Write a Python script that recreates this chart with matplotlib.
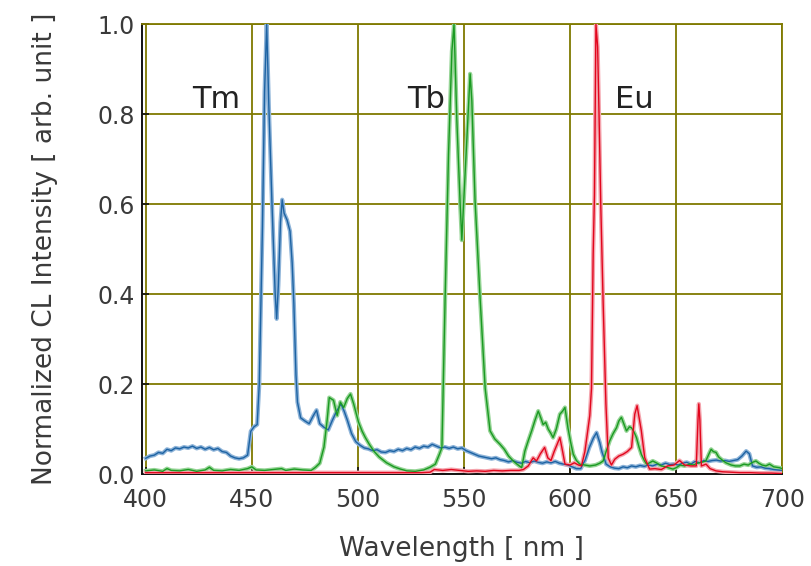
import matplotlib
matplotlib.use("Agg")
import matplotlib.pyplot as plt

# Tm-doped sample (blue)
tm_wl = [400, 402, 404, 406, 408, 410, 412, 414, 416, 418, 420, 422, 424, 426, 428, 430,
         432, 434, 436, 438, 440, 442, 444, 446, 448, 449.5, 451, 452.5, 453.5, 455, 456,
         457, 458, 459.5, 461, 461.7, 462.5, 463.5, 464.3, 465.2, 466.6, 468, 469, 469.8,
         470.8, 471.5, 473, 475, 477, 479, 480.5, 482, 484, 486, 488, 490, 492, 493.5, 495,
         497, 499, 501, 503, 505, 507, 509, 511, 513, 515, 517, 519, 521, 523, 525, 527, 529,
         531, 533, 535, 537, 539, 541, 543, 545, 547, 549, 551, 553, 555, 557, 559, 561, 563,
         565, 567, 569, 571, 573, 575, 577, 579, 581, 583, 585, 587, 589, 591, 593, 595, 597,
         599, 601, 603, 605, 607, 609, 611, 612.5, 614, 615, 617, 619, 621, 623, 625, 627,
         629, 631, 633, 635, 637, 639, 641, 643, 645, 647, 649, 651, 653, 655, 657, 659, 661,
         663, 665, 667, 669, 671, 673, 675, 677, 679, 681, 683, 684.5, 686, 688, 690, 692,
         694, 696, 698, 700]
tm_int = [0.035, 0.040, 0.042, 0.048, 0.046, 0.055, 0.052, 0.058, 0.056, 0.060, 0.058, 0.062,
          0.057, 0.060, 0.055, 0.059, 0.054, 0.057, 0.050, 0.048, 0.040, 0.036, 0.034, 0.036,
          0.042, 0.095, 0.105, 0.110, 0.200, 0.550, 0.850, 1.000, 0.820, 0.600, 0.400, 0.345,
          0.420, 0.560, 0.610, 0.580, 0.565, 0.540, 0.470, 0.380, 0.220, 0.160, 0.125, 0.118,
          0.112, 0.130, 0.142, 0.112, 0.104, 0.098, 0.120, 0.140, 0.156, 0.140, 0.120, 0.090,
          0.072, 0.064, 0.058, 0.056, 0.052, 0.054, 0.049, 0.048, 0.052, 0.050, 0.055, 0.052,
          0.057, 0.054, 0.060, 0.057, 0.062, 0.060, 0.066, 0.062, 0.058, 0.060, 0.057, 0.060,
          0.056, 0.058, 0.052, 0.048, 0.044, 0.040, 0.038, 0.036, 0.034, 0.036, 0.032, 0.030,
          0.027, 0.030, 0.026, 0.024, 0.028, 0.025, 0.029, 0.026, 0.024, 0.027, 0.025, 0.028,
          0.024, 0.022, 0.020, 0.016, 0.012, 0.012, 0.030, 0.058, 0.080, 0.092, 0.070, 0.050,
          0.022, 0.016, 0.013, 0.012, 0.016, 0.014, 0.018, 0.016, 0.019, 0.017, 0.020, 0.018,
          0.022, 0.020, 0.024, 0.021, 0.022, 0.020, 0.024, 0.026, 0.022, 0.028, 0.025, 0.030,
          0.028, 0.030, 0.031, 0.029, 0.030, 0.028, 0.030, 0.032, 0.040, 0.051, 0.045, 0.018,
          0.015, 0.016, 0.013, 0.012, 0.010, 0.009, 0.008]

# Tb-doped sample (green)
tb_wl = [400, 404, 408, 410, 412, 416, 420, 424, 428, 430, 432, 436, 440, 444, 448, 450, 452,
         456, 460, 464, 466, 470, 474, 478, 480, 482, 484, 485.5, 486.5, 488.5, 490.2, 491.7,
         493.3, 495, 496.5, 498, 500.3, 502, 503.5, 505.5, 507.5, 510, 513.5, 517, 520, 523,
         527, 531, 534, 536.5, 538.5, 539.6, 541.1, 542.7, 544.3, 545.3, 546.6, 548.2, 549,
         549.7, 551.3, 552.9, 553.7, 555.2, 557.6, 560, 562.3, 564.5, 567, 569, 571, 573.2,
         575, 577.2, 578.7, 580, 581.9, 583.5, 585, 586.2, 587.3, 588.5, 589.7, 591, 592,
         593.5, 595.2, 596.5, 597.6, 599, 600.3, 601.5, 603, 604.6, 607, 609.3, 612, 614,
         615.6, 617, 618.7, 620.3, 621.9, 623, 624.2, 625.5, 626.6, 628, 628.9, 630, 631.3,
         632.5, 633.6, 635, 636, 637.5, 639, 641, 643, 645, 647, 648.5, 650, 652, 654, 656.4,
         658, 660, 662, 664, 665.5, 666.5, 667.5, 668.8, 670, 672, 673.5, 676, 678, 680, 682,
         684, 686, 687.6, 689, 690.5, 692.3, 694, 696, 698.7, 700]
tb_int = [0.007, 0.009, 0.006, 0.012, 0.008, 0.007, 0.010, 0.006, 0.009, 0.015, 0.008, 0.007,
          0.010, 0.008, 0.012, 0.016, 0.009, 0.008, 0.010, 0.012, 0.008, 0.011, 0.009, 0.008,
          0.015, 0.024, 0.060, 0.120, 0.170, 0.164, 0.130, 0.160, 0.148, 0.168, 0.178, 0.156,
          0.115, 0.095, 0.081, 0.065, 0.051, 0.038, 0.025, 0.016, 0.011, 0.007, 0.006, 0.009,
          0.015, 0.022, 0.045, 0.059, 0.390, 0.710, 0.940, 1.000, 0.790, 0.600, 0.520, 0.590,
          0.740, 0.890, 0.830, 0.610, 0.390, 0.190, 0.096, 0.078, 0.066, 0.055, 0.040, 0.029,
          0.022, 0.014, 0.051, 0.070, 0.096, 0.120, 0.140, 0.125, 0.110, 0.115, 0.100, 0.090,
          0.081, 0.100, 0.133, 0.140, 0.148, 0.103, 0.070, 0.044, 0.030, 0.022, 0.020, 0.018,
          0.020, 0.024, 0.029, 0.050, 0.074, 0.090, 0.103, 0.118, 0.126, 0.110, 0.096, 0.105,
          0.103, 0.095, 0.081, 0.060, 0.044, 0.030, 0.022, 0.025, 0.029, 0.024, 0.018, 0.016,
          0.013, 0.011, 0.014, 0.020, 0.018, 0.022, 0.020, 0.024, 0.026, 0.029, 0.045, 0.055,
          0.050, 0.048, 0.038, 0.030, 0.025, 0.020, 0.018, 0.018, 0.022, 0.020, 0.026, 0.029,
          0.024, 0.020, 0.018, 0.022, 0.016, 0.014, 0.012]

# Eu-doped sample (red)
eu_wl = [400, 420, 440, 460, 480, 500, 520, 530, 534, 536, 540, 544, 548, 552, 556, 560, 564,
         568, 572, 576, 578, 580.3, 582.6, 584.2, 586, 588, 589.5, 591, 592.5, 595.2, 596.5,
         597.6, 600, 602, 604, 605.4, 607, 609.3, 610.1, 610.9, 611.5, 612.2, 613, 613.7,
         614.5, 615.6, 616.9, 618, 619.5, 621.1, 623, 625, 627, 629, 630.5, 631.6, 633.6,
         635.2, 637.5, 640, 643, 646, 649, 651.6, 654, 657, 659.5, 660.3, 660.7, 661.2, 661.9,
         664.1, 666, 668.8, 672, 676, 680, 685, 690, 695, 700]
eu_int = [0.003, 0.003, 0.003, 0.003, 0.003, 0.003, 0.003, 0.003, 0.004, 0.010, 0.008, 0.010,
          0.008, 0.006, 0.007, 0.006, 0.008, 0.007, 0.008, 0.008, 0.010, 0.018, 0.036, 0.029,
          0.045, 0.059, 0.036, 0.030, 0.050, 0.081, 0.050, 0.022, 0.020, 0.025, 0.020, 0.018,
          0.050, 0.130, 0.190, 0.490, 0.620, 1.000, 0.950, 0.790, 0.594, 0.380, 0.156, 0.036,
          0.020, 0.033, 0.040, 0.044, 0.050, 0.059, 0.133, 0.152, 0.096, 0.036, 0.011, 0.012,
          0.010, 0.018, 0.020, 0.030, 0.020, 0.018, 0.018, 0.120, 0.156, 0.120, 0.018, 0.022,
          0.012, 0.007, 0.005, 0.004, 0.003, 0.003, 0.002, 0.002, 0.001]

x_ticks = [400, 450, 500, 550, 600, 650, 700]
y_ticks = [0.0, 0.2, 0.4, 0.6, 0.8, 1.0]
ion_labels = ["Tm", "Tb", "Eu"]
ion_label_x = [422, 523, 621]

olive = "#7f7a00"
text_grey = "#3a3a3a"

fig = plt.figure(figsize=(8.12, 5.66), dpi=100)
ax = fig.add_axes([0.1743, 0.1625, 0.789, 0.7945])

series = [
    (tm_wl, tm_int, "#8db3d8", "#1d63a3"),
    (tb_wl, tb_int, "#95d495", "#1a9a22"),
    (eu_wl, eu_int, "#f4a4ad", "#e2061d"),
]
for wl, inten, halo, core in series:
    ax.plot(wl, inten, color=halo, lw=3.0, solid_joinstyle="round", zorder=3)
for wl, inten, halo, core in series:
    ax.plot(wl, inten, color=core, lw=1.0, solid_joinstyle="round", zorder=4)

ax.set_xlim(398, 700)
ax.set_ylim(0, 1.0)
ax.set_xticks(x_ticks)
ax.set_yticks(y_ticks)
ax.set_xticklabels([str(v) for v in x_ticks])
ax.set_yticklabels([f"{v:.1f}" for v in y_ticks])

ax.grid(True, color=olive, lw=1.3, zorder=1)
ax.set_axisbelow(True)

for side in ("top", "right"):
    ax.spines[side].set_color(olive)
    ax.spines[side].set_linewidth(1.3)
for side in ("left", "bottom"):
    ax.spines[side].set_color("#111111")
    ax.spines[side].set_linewidth(1.4)

ax.tick_params(axis="both", direction="in", length=5, width=1.2, color="#111111",
               labelsize=17, labelcolor=text_grey)
ax.tick_params(axis="x", pad=10)
ax.tick_params(axis="y", pad=5)

for name, xpos in zip(ion_labels, ion_label_x):
    ax.text(xpos, 0.814, name, fontsize=22, color="#222222", ha="left", va="baseline",
            zorder=5)

ax.set_xlabel("Wavelength [ nm ]", fontsize=19, color=text_grey, labelpad=17)
ax.set_ylabel("Normalized CL Intensity [ arb. unit ]", fontsize=19, color=text_grey,
              labelpad=28)

fig.savefig("out.png", dpi=100)
